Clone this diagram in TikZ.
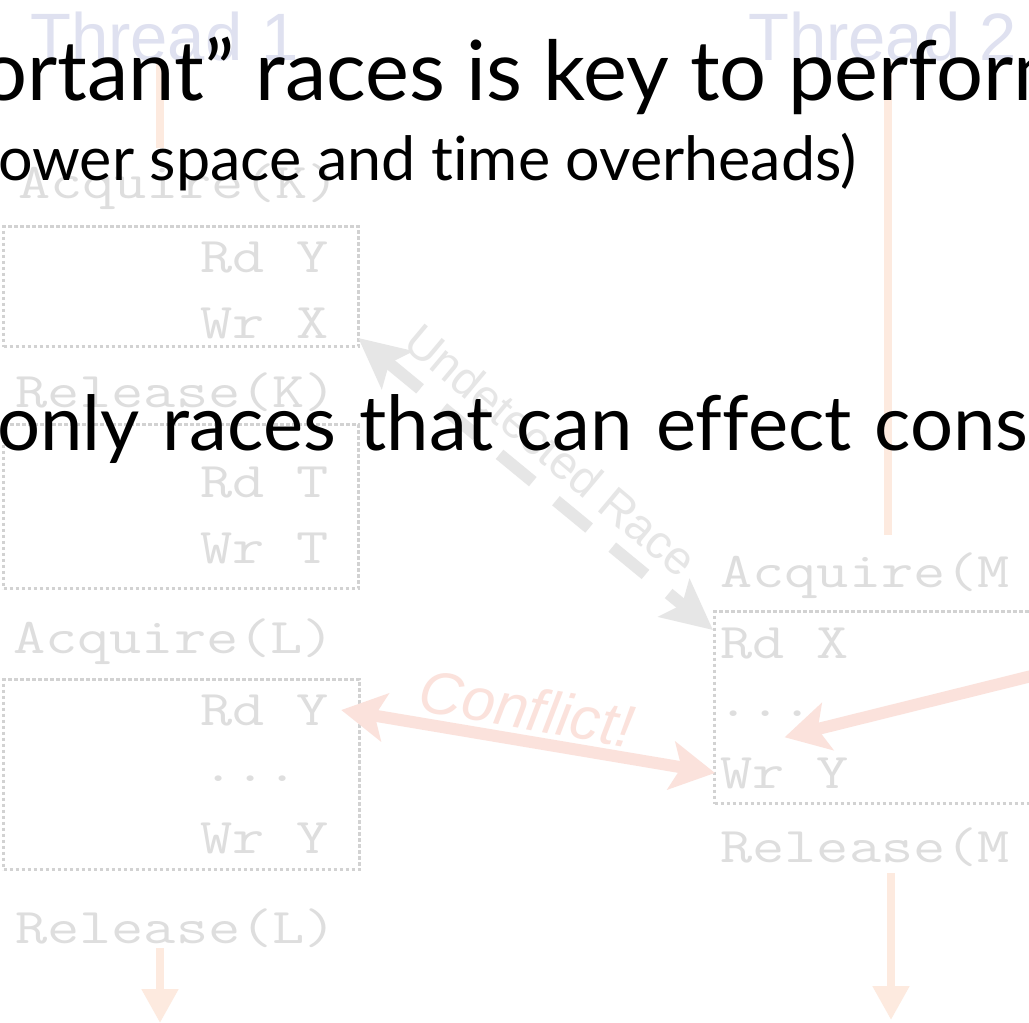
\documentclass[tikz,border=0pt]{standalone}
\usepackage{fontspec}
\setmainfont{Lato}[Ligatures=CommonOff]
\newfontfamily\helv{Liberation Sans}
\usetikzlibrary{arrows.meta}

\definecolor{codegray}{RGB}{222,222,222}
\definecolor{boxgray}{RGB}{210,210,210}
\definecolor{racegray}{RGB}{230,230,230}
\definecolor{threadpeach}{RGB}{253,234,223}
\definecolor{conflictpink}{RGB}{251,226,220}
\definecolor{threadblue}{RGB}{223,225,240}

\tikzset{
  bigtip/.tip={Stealth[length=44pt,width=48pt,inset=10pt]},
  racetip/.tip={Stealth[length=50pt,width=48pt,inset=10pt]},
  threadtip/.tip={Triangle[length=34pt,width=35pt]}
}

\begin{document}
\begin{tikzpicture}[x=1pt,y=-1pt,
  code/.style={font=\fontsize{50}{50}\selectfont\ttfamily\addfontfeature{FakeBold=4},
    text=codegray, inner sep=0pt, anchor=base west, xscale=1.25},
  dotbox/.style={draw=boxgray, line width=3.4pt, dash pattern=on 3.4pt off 2.6pt,
    inner sep=0pt, anchor=north west},
  threadname/.style={font=\helv\fontsize{67}{67}\selectfont, text=threadblue,
    inner sep=0pt, anchor=base west},
  threadline/.style={draw=threadpeach, line width=8pt},
  threadarrow/.style={threadline, -threadtip},
  racearrow/.style={draw=racegray, line width=12pt, dash pattern=on 43pt off 30pt,
    racetip-racetip},
  conflictarrow/.style={draw=conflictpink, line width=12pt, bigtip-bigtip},
  pinkarrow/.style={draw=conflictpink, line width=12pt, -bigtip},
  headline/.style={inner sep=0pt, anchor=base west, text=black}
]
\useasboundingbox (0,0) rectangle (1029,1023);
\clip (0,0) rectangle (1029,1023);
\fill[white] (0,0) rectangle (1029,1023);

% thread headers
\node[threadname] (thr1) at (30,60) {Thread 1};
\node[threadname] (thr2) at (748,60) {Thread 2};

% thread 1 code
\node[code] (acqK) at (18,198) {Acquire(K)};
\node[dotbox, minimum width=355pt, minimum height=120pt] (box1) at (2,225) {};
\node[code] (rdY1) at (200,272) {Rd Y};
\node[code] (wrX) at (200,338) {Wr X};
\node[code] (relK) at (15,407) {Release(K)};
\node[dotbox, minimum width=355pt, minimum height=164pt] (box2) at (2,423) {};
\node[code] (rdT) at (200,497) {Rd T};
\node[code] (wrT) at (200,563) {Wr T};
\node[code] (acqL) at (13,653) {Acquire(L)};
\node[dotbox, minimum width=356pt, minimum height=190pt] (box3) at (2,678) {};
\node[code] (rdY2) at (200,725) {Rd Y};
\node[code] (dots1) at (202,781) {...};
\node[code] (wrY1) at (200,853) {Wr Y};
\node[code] (relL) at (15,943) {Release(L)};

% thread 2 code
\node[code] (acqM) at (720,587) {Acquire(M};
\node[dotbox, minimum width=340pt, minimum height=192pt] (box4) at (713,610) {};
\node[code] (rdX) at (720,658) {Rd X};
\node[code] (dots2) at (717,716) {...};
\node[code] (wrY2) at (720,788) {Wr Y};
\node[code] (relM) at (720,862) {Release(M};

% thread timelines
\coordinate (t1top) at (160,62);
\coordinate (t1bot) at (160,148);
\coordinate (t2top) at (888,62);
\coordinate (t2bot) at (888,535);
\coordinate (t1start) at (160,948);
\coordinate (t1end) at (160,1023);
\coordinate (t2start) at (891,873);
\coordinate (t2end) at (891,1020);
\draw[threadline] (t1top) -- (t1bot);
\draw[threadline] (t2top) -- (t2bot);
\draw[threadarrow] (t1start) -- (t1end);
\draw[threadarrow] (t2start) -- (t2end);

% undetected race
\draw[racearrow] ([xshift=29pt,yshift=-15pt]wrX.east) -- ([xshift=-7pt,yshift=13pt]rdX.west);
\node[font=\helv\fontsize{47}{47}\selectfont, text=racegray, rotate=-40, inner sep=0pt]
  (udlabel) at (551,450) {Undetected Race};

% conflict
\draw[conflictarrow] ([xshift=12pt]rdY2.east) -- ([xshift=-5pt]wrY2.west);
\node[font=\helv\itshape\fontsize{60}{60}\selectfont, text=conflictpink, rotate=-10, inner sep=0pt]
  (cflabel) at (527,708) {Conflict!};

% access coming in from a third thread
\coordinate (t3src) at (1100,659);
\draw[pinkarrow] (t3src) -- ([yshift=20pt]wrY2.north);

% slide text
\node[headline, font=\fontsize{83}{83}\selectfont] (line1) at (-20,100) {ortant” races is key to perform};
\node[headline, font=\fontsize{61}{61}\selectfont] (line2) at (-2,180) {ower space and time overheads)};
\node[headline, font=\fontsize{76}{76}\selectfont] (line3) at (-3,450) {\spaceskip=23pt\relax only races that can effect cons};
\end{tikzpicture}
\end{document}
